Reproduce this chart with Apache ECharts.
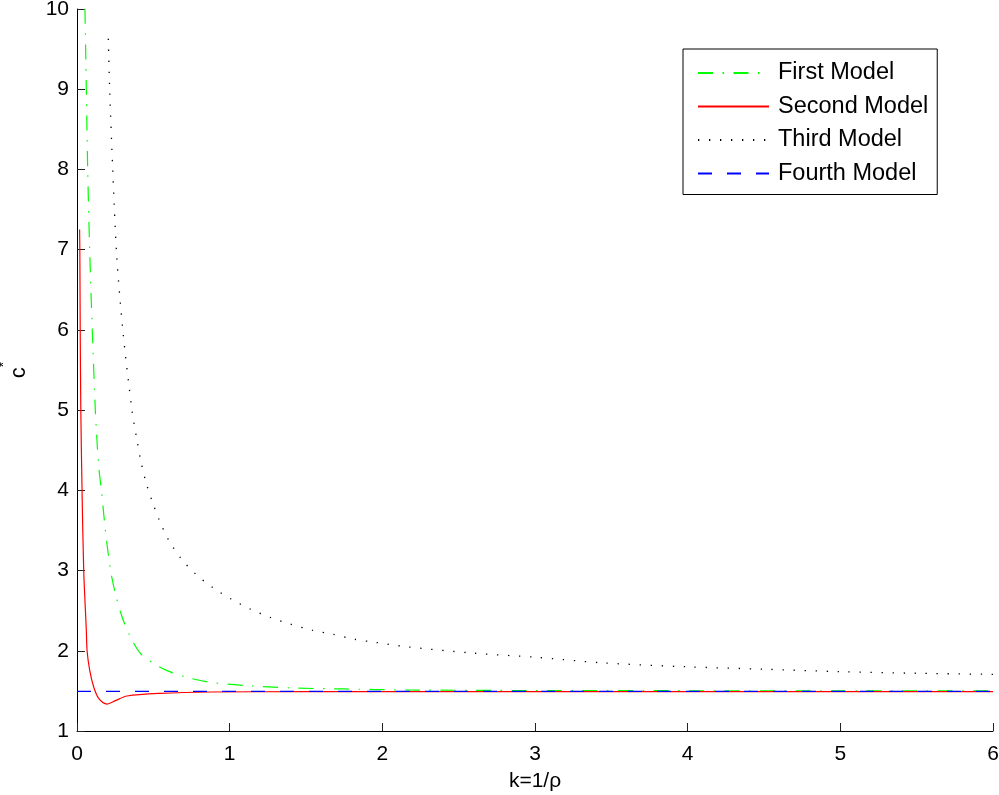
<!DOCTYPE html>
<html>
<head>
<meta charset="utf-8">
<script src="https://cdn.jsdelivr.net/npm/echarts@6/dist/echarts.min.js"></script>
<style>
html,body{margin:0;padding:0;background:#fff;}
#chart{width:999px;height:795px;}
</style>
</head>
<body>
<div id="chart"></div>
<script>
// ---- data ----
const seriesNames = ['First Model', 'Second Model', 'Third Model', 'Fourth Model'];

const firstK = [0.052, 0.061, 0.070, 0.083, 0.100, 0.120, 0.127, 0.142, 0.160, 0.186, 0.220, 0.251, 0.295, 0.349, 0.415, 0.502, 0.590, 0.720, 0.873, 1.092, 1.419, 1.747, 2.16, 2.6, 3.0, 4.0, 5.0, 6.0];
const firstC = [10.0, 9.0, 8.0, 7.0, 6.0, 5.0, 4.75, 4.30, 4.0, 3.50, 3.0, 2.716, 2.424, 2.175, 1.968, 1.843, 1.752, 1.669, 1.607, 1.569, 1.536, 1.524, 1.511, 1.507, 1.504, 1.502, 1.500, 1.499];

const secondK = [0.017, 0.0185, 0.021, 0.025, 0.033, 0.044, 0.061, 0.066, 0.083, 0.109, 0.142, 0.197, 0.251, 0.328, 0.546, 0.873, 1.5, 2.16, 3.0, 4.0, 5.0, 6.0];
const secondC = [7.25, 7.0, 6.0, 5.0, 4.0, 3.0, 2.258, 2.0, 1.76, 1.552, 1.407, 1.336, 1.378, 1.436, 1.469, 1.486, 1.49, 1.49, 1.49, 1.49, 1.49, 1.49];

const thirdK = [0.205, 0.214, 0.234, 0.260, 0.300, 0.360, 0.389, 0.415, 0.448, 0.491, 0.541, 0.600, 0.681, 0.779, 0.891, 1.009, 1.135, 1.266, 1.397, 1.539, 1.677, 1.812, 1.954, 2.16, 2.6, 3.0, 3.43, 4.0, 4.5, 5.0, 5.5, 6.0];
const thirdC = [9.63, 9.0, 8.0, 6.93, 6.0, 5.0, 4.667, 4.397, 4.127, 3.87, 3.62, 3.38, 3.152, 2.952, 2.786, 2.645, 2.52, 2.416, 2.333, 2.258, 2.205, 2.146, 2.105, 2.05, 1.97, 1.92, 1.851, 1.80, 1.77, 1.74, 1.72, 1.706];

const fourthK = [0, 6];
const fourthC = [1.495, 1.495];

const xTicks = [0, 1, 2, 3, 4, 5, 6];
const yTicks = [1, 2, 3, 4, 5, 6, 7, 8, 9, 10];

function pairs(ks, cs) { return ks.map((k, i) => [k, cs[i]]); }

const FONT = '"Liberation Sans", Arial, Helvetica, sans-serif';

const chart = echarts.init(document.getElementById('chart'), null, {renderer: 'canvas'});
chart.setOption({
  animation: false,
  backgroundColor: '#ffffff',
  textStyle: {fontFamily: FONT},
  grid: {left: 77, right: 6, top: 9, bottom: 64, containLabel: false, outerBoundsMode: 'none'},
  legend: {
    orient: 'vertical',
    left: 683, top: 49,
    padding: [12, 9, 9, 14],
    itemWidth: 71, itemHeight: 14, itemGap: 9.5,
    backgroundColor: '#fff',
    borderColor: '#000', borderWidth: 1,
    itemStyle: {opacity: 0},
    textStyle: {fontFamily: FONT, fontSize: 23.5, color: '#000', lineHeight: 24, padding: [0, 0, 0, 4]},
    data: seriesNames,
    selectedMode: false
  },
  xAxis: {
    type: 'value', min: xTicks[0], max: xTicks[xTicks.length - 1], interval: 1,
    name: 'k=1/ρ', nameLocation: 'middle', nameGap: 40,
    nameTextStyle: {fontFamily: FONT, fontSize: 21, color: '#000'},
    axisLine: {show: true, onZero: false, lineStyle: {color: '#000', width: 1}},
    axisTick: {show: true, inside: true, length: 8, lineStyle: {color: '#222'}},
    axisLabel: {fontFamily: FONT, fontSize: 21, color: '#000', margin: 13},
    splitLine: {show: false}
  },
  yAxis: {
    type: 'value', min: yTicks[0], max: yTicks[yTicks.length - 1], interval: 1,
    name: '{a|c}{b|*}', nameLocation: 'middle', nameGap: 47, nameRotate: 90,
    nameTextStyle: {
      fontFamily: FONT, color: '#000',
      rich: {
        a: {fontFamily: FONT, fontSize: 22, color: '#000', verticalAlign: 'bottom'},
        b: {fontFamily: FONT, fontSize: 14, color: '#000', verticalAlign: 'top', padding: [0, 0, 19, 0]}
      }
    },
    axisLine: {show: true, onZero: false, lineStyle: {color: '#000', width: 1}},
    axisTick: {show: true, inside: true, length: 8, lineStyle: {color: '#222'}},
    axisLabel: {fontFamily: FONT, fontSize: 21, color: '#000', margin: 8},
    splitLine: {show: false}
  },
  series: [
    {
      name: seriesNames[0], type: 'line', data: pairs(firstK, firstC),
      showSymbol: false, symbol: 'none', smooth: 0.3,
      lineStyle: {color: '#00ff00', width: 1.2, type: [15, 9.5, 1.5, 9.5]},
      itemStyle: {color: '#00ff00'}, z: 2
    },
    {
      name: seriesNames[1], type: 'line', data: pairs(secondK, secondC),
      showSymbol: false, symbol: 'none', smooth: 0.3,
      lineStyle: {color: '#ff0000', width: 1.2, type: 'solid'},
      itemStyle: {color: '#ff0000'}, z: 3
    },
    {
      name: seriesNames[2], type: 'line', data: pairs(thirdK, thirdC),
      showSymbol: false, symbol: 'none', smooth: 0.3,
      lineStyle: {color: '#000000', width: 1.3, type: [1.3, 9.7]},
      itemStyle: {color: '#000000'}, z: 4
    },
    {
      name: seriesNames[3], type: 'line', data: pairs(fourthK, fourthC),
      showSymbol: false, symbol: 'none',
      lineStyle: {color: '#0000ff', width: 1.2, type: [14, 15]},
      itemStyle: {color: '#0000ff'}, z: 5
    }
  ]
});
</script>
</body>
</html>
